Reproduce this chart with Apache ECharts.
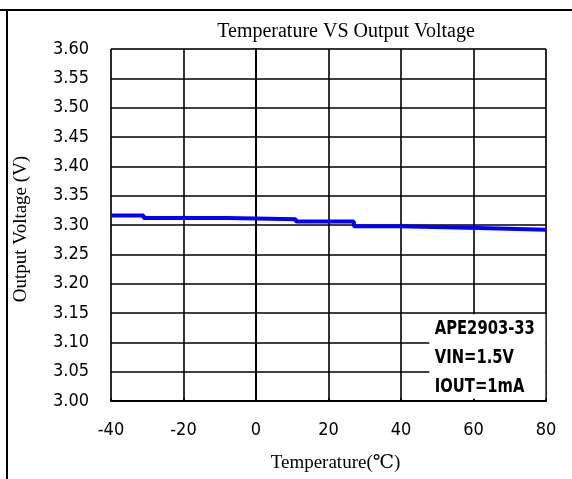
<!DOCTYPE html>
<html><head><meta charset="utf-8">
<script src="https://cdn.jsdelivr.net/npm/echarts@6/dist/echarts.min.js"></script>
<style>html,body{margin:0;padding:0;background:#fff}#c{width:572px;height:479px}</style>
</head><body><div id="c"></div>
<script>
var temps = [-40, -31, -8, 11, 27, 39.5, 61.5, 80];
var volts = [3.316, 3.312, 3.310, 3.306, 3.298, 3.295, 3.292, 3.292];
var noteLines = ['APE2903-33', 'VIN=1.5V', 'IOUT=1mA'];
var titleText = 'Temperature VS Output Voltage';
var xName = 'Temperature(\u2103)';
var yName = 'Output Voltage (V)';

var narrow = "'DejaVu Sans Condensed','Liberation Sans Narrow',sans-serif";
var serif = "'Liberation Serif','DejaVu Serif',serif";
var chart = echarts.init(document.getElementById('c'));
var pts = temps.map(function(t, i){ return [t, volts[i]]; });
chart.setOption({
  animation: false,
  backgroundColor: '#fff',
  title: { text: titleText, left: 341, textAlign: 'center', top: 17,
    textStyle: { fontFamily: serif, fontSize: 20, fontWeight: 'normal', color: '#000' } },
  grid: { left: 111, right: 26, top: 49, bottom: 78, show: true, borderColor: '#999', borderWidth: 1,
    containLabel: false, outerBoundsMode: 'none' },
  xAxis: { type: 'value', min: -40, max: 80, interval: 20,
    name: xName, nameLocation: 'middle', nameGap: 53,
    nameTextStyle: { fontFamily: serif, fontSize: 19, color: '#000', padding: [0,0,0,14] },
    axisLine: { lineStyle: { color: '#000', width: 2 } },
    axisTick: { show: true, inside: true, length: 3, lineStyle: { color: '#000', width: 1.5 } },
    axisLabel: { fontFamily: narrow, fontSize: 18, color: '#000', margin: 20 },
    splitLine: { show: true, lineStyle: { color: '#000', width: 1.6 } } },
  yAxis: { type: 'value', min: 3, max: 3.6, interval: 0.05,
    name: yName, nameLocation: 'middle', nameGap: 80,
    nameTextStyle: { fontFamily: serif, fontSize: 19, color: '#000', padding: [0,8,0,0] },
    axisLine: { lineStyle: { color: '#000', width: 2 } },
    axisTick: { show: false },
    axisLabel: { fontFamily: narrow, fontSize: 18, color: '#000', margin: 22,
      formatter: function(v){ return v.toFixed(2); } },
    splitLine: { show: true, lineStyle: { color: '#000', width: 1.6 } } },
  series: [{
    type: 'line', data: pts, step: 'end', symbol: 'none',
    lineStyle: { color: '#0000ff', width: 4 },
    markArea: { silent: true, itemStyle: { color: '#fff', opacity: 1 },
      data: [[{ coord: [47.8, 3.004] }, { coord: [79.8, 3.148] }]] }
  }]
});
var corner = chart.convertToPixel({ xAxisIndex: 0, yAxisIndex: 0 }, [48.5, 3.15]);
var els = [
  { type: 'line', shape: { x1: 0, y1: 10, x2: 572, y2: 10 }, style: { stroke: '#000', lineWidth: 2 } },
  { type: 'line', shape: { x1: 7, y1: 10, x2: 7, y2: 479 }, style: { stroke: '#000', lineWidth: 2 } }
].concat(noteLines.map(function(s, i){
  return { type: 'text', x: corner[0] + 3, y: corner[1] + 6 + i * 29, scaleX: 0.82, z: 100,
    style: { text: s, fontFamily: narrow, fontSize: 20, fontWeight: 'bold', fill: '#000' } };
}));
chart.setOption({ graphic: els });
</script></body></html>
